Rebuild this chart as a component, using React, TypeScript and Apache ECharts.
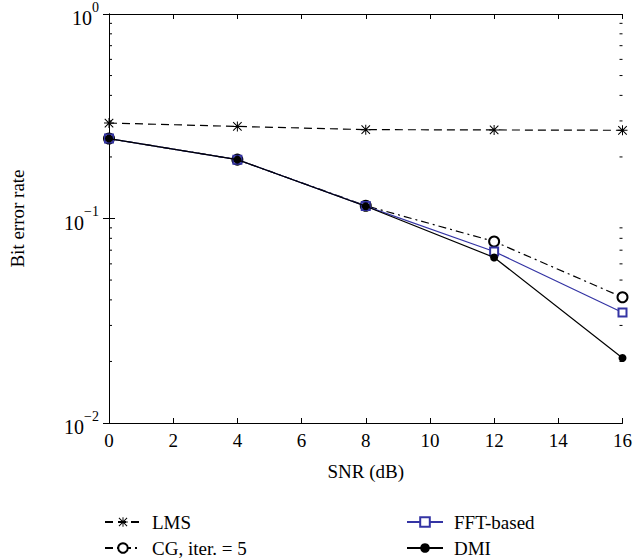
import React, { useEffect, useRef } from "react";
import * as echarts from "echarts";

const snr = [0, 4, 8, 12, 16];
const lms = [0.293, 0.282, 0.272, 0.271, 0.27];
const cg = [0.246, 0.194, 0.1155, 0.0772, 0.0412];
const fft = [0.246, 0.194, 0.115, 0.069, 0.0347];
const dmi = [0.246, 0.194, 0.1148, 0.0645, 0.0208];
const minorTickValues = [
  0.02, 0.03, 0.04, 0.05, 0.06, 0.07, 0.08, 0.09,
  0.2, 0.3, 0.4, 0.5, 0.6, 0.7, 0.8, 0.9,
];
const seriesNames = ["LMS", "CG, iter. = 5", "FFT-based", "DMI"];

const FONT = "Liberation Serif";
const BLUE = "#3434a4";
const STAR =
  "path://M4.5 0L5.5 0L5.5 10L4.5 10ZM0 4.5L10 4.5L10 5.5L0 5.5ZM1.1 0.4L9.6 8.9L8.9 9.6L0.4 1.1ZM8.9 0.4L9.6 1.1L1.1 9.6L0.4 8.9Z";

const pair = (ys: number[]) => snr.map((x, i) => [x, ys[i]]);

export default function App() {
  const ref = useRef<HTMLDivElement>(null);
  useEffect(() => {
    if (!ref.current) return;
    const chart = echarts.init(ref.current, undefined, { renderer: "svg" });
    const yLabel = (v: number) => {
      const e = Math.round(Math.log10(v));
      const s = e < 0 ? "\u2212" + Math.abs(e) : String(e);
      return "{b|10}{s|" + s + "}";
    };
    const axisCommon = {
      axisLine: { show: true, lineStyle: { color: "#000", width: 1 } },
      splitLine: { show: false },
    };
    const legendPos = [
      { left: 104, top: 512 },
      { left: 104, top: 538 },
      { left: 406, top: 512 },
      { left: 406, top: 538 },
    ];
    chart.setOption({
      animation: false,
      textStyle: { fontFamily: FONT },
      grid: { left: 106, right: 9, top: 13, bottom: 136, containLabel: false },
      xAxis: [
        {
          type: "value",
          min: 0,
          max: 16,
          interval: 2,
          position: "bottom",
          ...axisCommon,
          axisTick: { inside: true, length: 5, lineStyle: { color: "#000" } },
          axisLabel: { color: "#000", fontSize: 19, fontFamily: FONT, margin: 8 },
          name: "SNR (dB)",
          nameLocation: "middle",
          nameGap: 39,
          nameTextStyle: { color: "#000", fontSize: 19, fontFamily: FONT },
        },
        {
          type: "value",
          min: 0,
          max: 16,
          interval: 2,
          position: "top",
          ...axisCommon,
          axisTick: { inside: true, length: 5, lineStyle: { color: "#000" } },
          axisLabel: { show: false },
        },
      ],
      yAxis: [
        {
          type: "log",
          logBase: 10,
          min: 0.01,
          max: 1,
          position: "left",
          ...axisCommon,
          axisTick: { inside: true, length: 6, lineStyle: { color: "#000" } },
          axisLabel: {
            color: "#000",
            margin: 10,
            formatter: yLabel,
            rich: {
              b: { fontSize: 20, fontFamily: FONT, color: "#000", verticalAlign: "bottom", lineHeight: 28 },
              s: { fontSize: 14, fontFamily: FONT, color: "#000", verticalAlign: "top", lineHeight: 14 },
            },
          },
          name: "Bit error rate",
          nameLocation: "middle",
          nameGap: 82,
          nameTextStyle: { color: "#000", fontSize: 19, fontFamily: FONT },
        },
        {
          type: "log",
          logBase: 10,
          min: 0.01,
          max: 1,
          position: "right",
          ...axisCommon,
          axisTick: { inside: true, length: 6, lineStyle: { color: "#000" } },
          axisLabel: { show: false },
        },
      ],
      legend: seriesNames.map((n, i) => ({
        data: [n],
        left: legendPos[i].left,
        top: legendPos[i].top,
        padding: 0,
        itemWidth: 36,
        itemHeight: 12,
        textStyle: { fontSize: 19, lineHeight: 20, fontFamily: FONT, color: "#000", padding: [0, 0, 0, 6] },
      })),
      series: [
        {
          type: "custom",
          name: "minor",
          silent: true,
          clip: false,
          xAxisIndex: 0,
          yAxisIndex: 0,
          encode: { x: 0, y: 1 },
          data: minorTickValues.map((v) => [0, v]),
          renderItem: (params: any, api: any) => {
            const v = api.value(1);
            const l = api.coord([0, v]);
            const r = api.coord([16, v]);
            return {
              type: "group",
              children: [
                { type: "line", shape: { x1: l[0], y1: l[1], x2: l[0] + 3, y2: l[1] }, style: { stroke: "#000", lineWidth: 1 } },
                { type: "line", shape: { x1: r[0] - 3, y1: r[1], x2: r[0], y2: r[1] }, style: { stroke: "#000", lineWidth: 1 } },
              ],
            };
          },
        },
        {
          name: "LMS",
          type: "line",
          data: pair(lms),
          symbol: STAR,
          symbolSize: 10,
          showAllSymbol: true,
          lineStyle: { color: "#000", width: 1.2, type: [8, 5] },
          itemStyle: { color: "#000" },
          z: 3,
        },
        {
          name: "CG, iter. = 5",
          type: "line",
          data: pair(cg),
          symbol: "emptyCircle",
          symbolSize: 10,
          lineStyle: { color: "#000", width: 1.2, type: [8, 4, 2, 4] },
          itemStyle: { color: "#000", borderWidth: 1.2 },
          z: 3,
        },
        {
          name: "FFT-based",
          type: "line",
          data: pair(fft),
          symbol: "emptyRect",
          symbolSize: 8,
          lineStyle: { color: BLUE, width: 1.2 },
          itemStyle: { color: BLUE, borderWidth: 1.2 },
          z: 4,
        },
        {
          name: "DMI",
          type: "line",
          data: pair(dmi),
          symbol: "circle",
          symbolSize: 8,
          lineStyle: { color: "#000", width: 1.2 },
          itemStyle: { color: "#000" },
          z: 5,
        },
      ],
    });
    return () => chart.dispose();
  }, []);
  return (
    <div
      ref={ref}
      style={{ position: "fixed", left: 0, top: 0, width: 635, height: 559, background: "#fff" }}
    />
  );
}
